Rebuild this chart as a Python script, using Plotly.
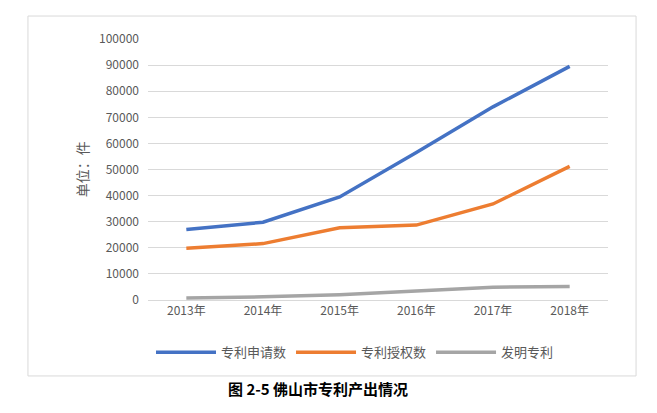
import plotly.graph_objects as go

years = ["2013年", "2014年", "2015年", "2016年", "2017年", "2018年"]
apply_vals = [27000, 29800, 39500, 56500, 74000, 89500]
grant_vals = [19800, 21600, 27700, 28700, 36800, 51200]
invent_vals = [800, 1200, 2000, 3300, 4900, 5200]

fig = go.Figure()
for name, vals, c in [("专利申请数", apply_vals, "#4472C4"),
                      ("专利授权数", grant_vals, "#ED7D31"),
                      ("发明专利", invent_vals, "#A5A5A5")]:
    fig.add_trace(go.Scatter(x=years, y=vals, name=name, mode="lines",
                             line=dict(color=c, width=3.5)))

f = dict(family="Noto Sans CJK SC", size=12, color="#595959")
fig.update_layout(
    width=657, height=413, margin=dict(l=140, r=57, t=31, b=121, autoexpand=False),
    paper_bgcolor="white", plot_bgcolor="white", font=f,
    xaxis=dict(showgrid=False, showline=True, linecolor="#D9D9D9", ticks="",
               range=[-0.5, 5.5], automargin=False,
               tickfont=dict(size=12, color="#595959")),
    yaxis=dict(range=[0, 100000], dtick=10000, gridcolor="#D9D9D9", automargin=False,
               zeroline=False, tickformat="d", ticks="", ticklabelstandoff=8,
               tickfont=dict(size=12, color="#595959")),
    legend=dict(orientation="h", x=0.45, xanchor="center", y=-0.2, yanchor="middle",
                font=dict(size=13, color="#595959"), itemwidth=60, traceorder="normal"),
    showlegend=True,
)
fig.add_shape(type="rect", xref="paper", yref="paper", x0=-0.261, x1=1.061,
              y0=-0.291, y1=1.088, line=dict(color="#D9D9D9", width=1))
fig.add_annotation(text="单位：件", xref="paper", yref="paper", x=-0.17, y=0.5,
                   textangle=-90, showarrow=False, font=dict(size=14, color="#595959"))
fig.add_annotation(text="<b>图 2-5 佛山市专利产出情况</b>", xref="paper", yref="paper",
                   x=0.37, y=-0.387, showarrow=False, xanchor="center",
                   font=dict(size=15, color="#000000", family="Noto Sans CJK SC"))
fig.write_html("out.html")
